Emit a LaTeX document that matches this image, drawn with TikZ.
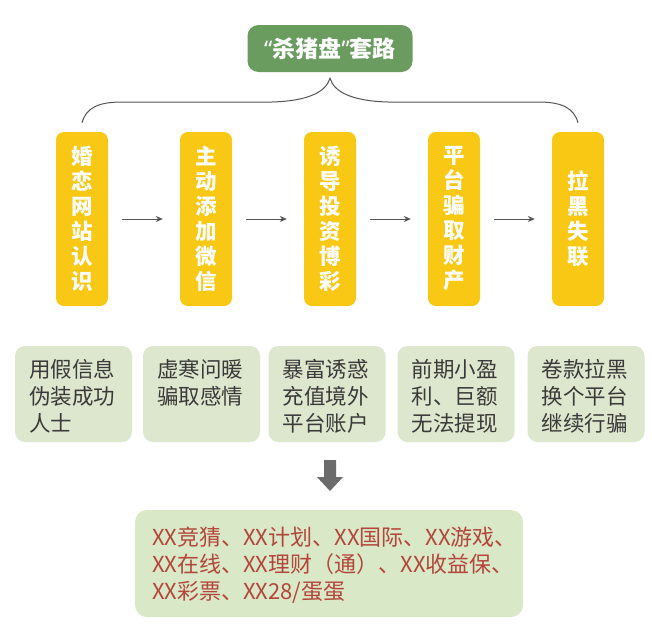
\documentclass[tikz,border=0pt]{standalone}
\usepackage{fontspec}
\newfontfamily\cjk{Noto Sans CJK SC}
\newfontfamily\latq{Noto Sans}
\usetikzlibrary{arrows.meta}
\definecolor{titlegreen}{HTML}{6A9C5F}
\definecolor{yel}{HTML}{F8C815}
\definecolor{sage}{HTML}{DDE7CD}
\definecolor{lgreen}{HTML}{D9E8C6}
\definecolor{txt}{HTML}{3A3A3A}
\definecolor{redt}{HTML}{B3463B}
\definecolor{linec}{HTML}{555555}
\definecolor{arrowgray}{HTML}{6B6B6B}
\tikzset{
  titlebox/.style={fill=titlegreen, rounded corners=11pt, minimum width=165pt, minimum height=47pt,
    text=white, font=\cjk\bfseries\fontsize{23}{27}\selectfont, inner sep=0pt},
  stepbox/.style={fill=yel, rounded corners=8pt, minimum width=52pt, minimum height=174pt,
    text=white, font=\cjk\bfseries\fontsize{21.5}{25}\selectfont, align=center, inner sep=0pt},
  sagebox/.style={fill=sage, rounded corners=10pt, minimum width=117pt, minimum height=96pt, inner sep=0pt},
  sagetext/.style={anchor=north west, inner sep=0pt, text=txt, align=left,
    font=\cjk\fontsize{21.5}{27}\selectfont},
  flowarrow/.style={draw=linec, line width=1pt, -{Stealth[length=7pt,width=6pt]}},
  bracecurve/.style={draw=linec, line width=1pt},
}
\begin{document}
\begin{tikzpicture}[x=1pt,y=-1pt]
\useasboundingbox (0,0) rectangle (652,624);
\fill[white] (0,0) rectangle (652,624);

% title
\node[titlebox] (title) at (330,48.5) {{\latq\bfseries “}杀猪盘{\latq\bfseries ”}套路};

% step boxes
\node[stepbox] (s1) at (82,219) {婚\\恋\\网\\站\\认\\识};
\node[stepbox] (s2) at (206,219) {主\\动\\添\\加\\微\\信};
\node[stepbox] (s3) at (330,219) {诱\\导\\投\\资\\博\\彩};
\node[stepbox] (s4) at (454,219) {平\\台\\骗\\取\\财\\产};
\node[stepbox] (s5) at (578,219) {拉\\黑\\失\\联};

% arrows between steps
\foreach \a/\b in {s1/s2, s2/s3, s3/s4, s4/s5}
  \draw[flowarrow, shorten <=14pt, shorten >=17pt] (\a.east) -- (\b.west);

% brace
\coordinate (peak) at ([yshift=-6pt]title.south);
\coordinate (bl) at ([yshift=9pt]s1.north);
\coordinate (br) at ([yshift=9pt]s5.north);
\draw[bracecurve] (bl) .. controls (86,108) and (98,102) .. (122,102)
  -- (272,102) .. controls (308,101) and (326,92) .. (peak)
  .. controls (334,92) and (352,101) .. (388,102)
  -- (538,102) .. controls (562,102) and (574,108) .. (br);

% description boxes
\node[sagebox] (g1) at (73.5,394) {};
\node[sagebox] (g2) at (201.5,394) {};
\node[sagebox] (g3) at (327,394) {};
\node[sagebox] (g4) at (456,394) {};
\node[sagebox] (g5) at (586,394) {};
\node[sagetext] (t1) at ([xshift=14pt,yshift=-13pt]g1.north west) {用假信息\\伪装成功\\人士};
\node[sagetext] (t2) at ([xshift=14pt,yshift=-13pt]g2.north west) {虚寒问暖\\骗取感情};
\node[sagetext] (t3) at ([xshift=14pt,yshift=-13pt]g3.north west) {暴富诱惑\\充值境外\\平台账户};
\node[sagetext] (t4) at ([xshift=14pt,yshift=-13pt]g4.north west) {前期小盈\\利、巨额\\无法提现};
\node[sagetext] (t5) at ([xshift=14pt,yshift=-13pt]g5.north west) {卷款拉黑\\换个平台\\继续行骗};

% down arrow
\fill[arrowgray] (324,460) -- (336,460) -- (336,477) -- (343,477) -- (330,491)
  -- (317,477) -- (324,477) -- cycle;

% bottom box
\node[fill=lgreen, rounded corners=12pt, minimum width=388pt, minimum height=107pt, inner sep=0pt]
  (bottom) at (329,563.5) {};
\node[anchor=north west, inner sep=0pt, text=redt, align=left,
  font=\cjk\fontsize{22}{27}\selectfont] (btext) at ([xshift=17pt,yshift=-17pt]bottom.north west)
  {XX竞猜、XX计划、XX国际、XX游戏、\\XX在线、XX理财（通）、XX收益保、\\XX彩票、XX28/蛋蛋};
\end{tikzpicture}
\end{document}
